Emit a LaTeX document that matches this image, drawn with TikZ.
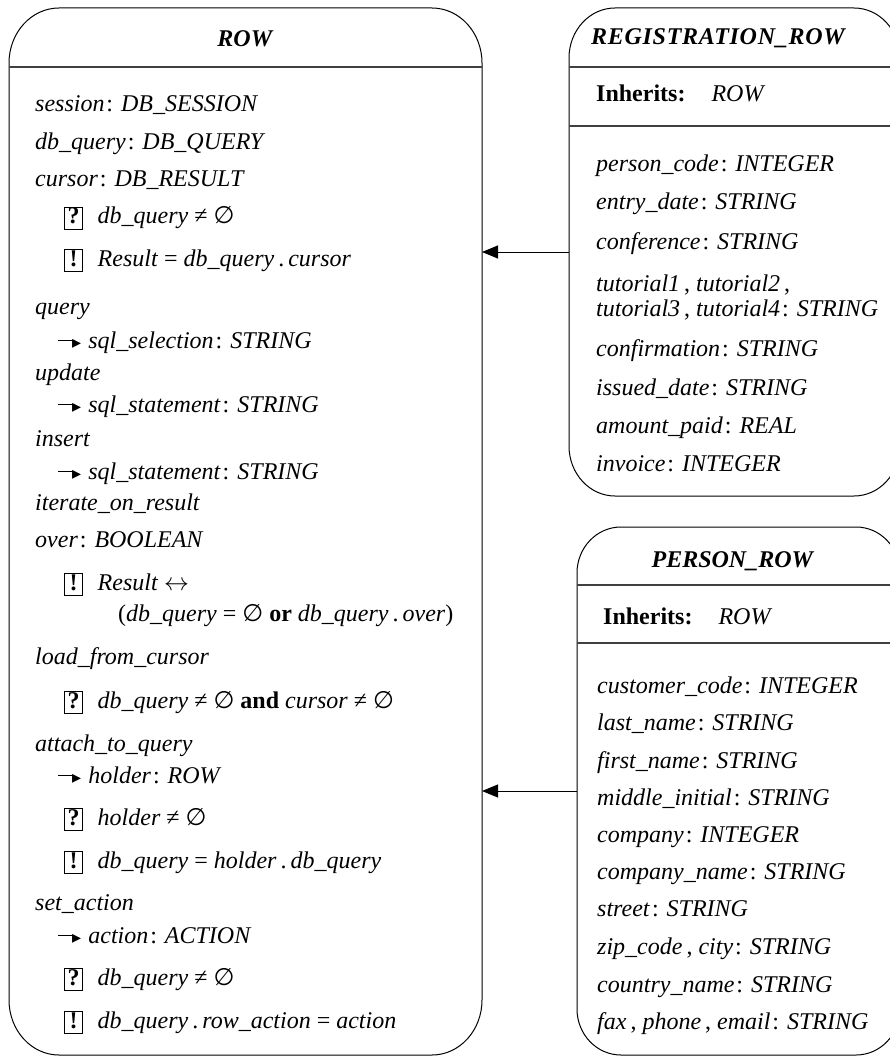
\documentclass[tikz,border=0pt]{standalone}
\usepackage{fontspec}
\usepackage{graphicx}
\setmainfont{Liberation Serif}
\newfontfamily\symfont{DejaVu Sans}
\usetikzlibrary{arrows.meta}

% class name, feature "name: TYPE"
\newcommand\cls[1]{\textbf{\textit{#1}}}
\newcommand\fe[2]{\textit{#1}\kern0.08em: \textit{#2}}
% empty set, not equal
\newcommand\void{{\symfont ∅}}
\newcommand\nvoid{≠ \void}
% framed assertion marker (? precondition, ! postcondition)
\newcommand\mk[1]{{\setlength\fboxsep{0pt}\setlength\fboxrule{0.9pt}%
  \fbox{\makebox[0.72em]{\rule[-0.2em]{0pt}{0.88em}\textbf{#1}}}}\hspace{0.6em}}
% argument arrow
\newcommand\argarrow{\rule[0.29em]{0.68em}{0.045em}\kern-0.1em{\symfont\scalebox{0.75}{▸}}\hspace{0.3em}}
% rounded class outline with elliptic corners around an invisible area node
\newcommand\classoutline[3]{%
  \draw[outline] ([yshift=-#3]#1.north west)
    arc[start angle=180,end angle=90,x radius=#2,y radius=#3]
    -- ([xshift=-#2]#1.north east)
    arc[start angle=90,end angle=0,x radius=#2,y radius=#3]
    -- ([yshift=#3]#1.south east)
    arc[start angle=0,end angle=-90,x radius=#2,y radius=#3]
    -- ([xshift=#2]#1.south west)
    arc[start angle=270,end angle=180,x radius=#2,y radius=#3]
    -- cycle;}

\tikzset{
  area/.style={anchor=north west, inner sep=0pt, outer sep=0pt, draw=none},
  outline/.style={line width=1pt, black},
  sep/.style={line width=1.2pt, black!75},
  txt/.style={anchor=base west, inner sep=0pt, font=\fontsize{24}{28}\selectfont},
  title/.style={anchor=base, inner sep=0pt, font=\fontsize{24}{28}\selectfont},
  inh/.style={line width=1pt, -{Triangle[length=16pt,width=13pt]}}
}

\begin{document}
\begin{tikzpicture}[x=1pt,y=-1pt]
\useasboundingbox (0,0) rectangle (890,1059);

% class areas
\node[area, minimum width=473pt, minimum height=1047pt] (rowbox) at (9,8) {};
\node[area, minimum width=331pt, minimum height=488pt] (regbox) at (569,8) {};
\node[area, minimum width=323pt, minimum height=528pt] (perbox) at (577,527) {};

\classoutline{rowbox}{50pt}{55pt}
\classoutline{regbox}{46pt}{50pt}
\classoutline{perbox}{44pt}{46pt}

% compartment separators
\draw[sep] (9,67) -- (482,67);
\draw[sep] (569,67) -- (900,67);
\draw[sep] (569,126) -- (900,126);
\draw[sep] (577,585) -- (900,585);
\draw[sep] (577,643) -- (900,643);

% ROW
\node[title] (rowt) at (245.5,47) {\cls{ROW}};
\node[txt] (r1) at (35,112) {\fe{session}{DB\_SESSION}};
\node[txt] (r2) at (35,150) {\fe{db\_query}{DB\_QUERY}};
\node[txt] (r3) at (35,187) {\fe{cursor}{DB\_RESULT}};
\node[txt] (r4) at (64,224) {\mk{?}\textit{db\_query} \nvoid};
\node[txt] (r5) at (64,266) {\mk{!}\textit{Result} = \textit{db\_query}\,.\,\textit{cursor}};
\node[txt] (r6) at (35,314) {\textit{query}};
\node[txt] (r7) at (58,348) {\argarrow\fe{sql\_selection}{STRING}};
\node[txt] (r8) at (35,380) {\textit{update}};
\node[txt] (r9) at (58,412) {\argarrow\fe{sql\_statement}{STRING}};
\node[txt] (r10) at (35,446) {\textit{insert}};
\node[txt] (r11) at (58,479) {\argarrow\fe{sql\_statement}{STRING}};
\node[txt] (r12) at (35,510) {\textit{iterate\_on\_result}};
\node[txt] (r13) at (35,547) {\fe{over}{BOOLEAN}};
\node[txt] (r14) at (64,590) {\mk{!}\textit{Result} $\leftrightarrow$};
\node[txt] (r15) at (118,621) {(\textit{db\_query} = \void{} \textbf{or} \textit{db\_query}\,.\,\textit{over})};
\node[txt] (r16) at (35,664) {\textit{load\_from\_cursor}};
\node[txt] (r17) at (64,708) {\mk{?}\textit{db\_query} \nvoid{} \textbf{and} \textit{cursor} \nvoid};
\node[txt] (r18) at (35,751) {\textit{attach\_to\_query}};
\node[txt] (r19) at (58,783) {\argarrow\fe{holder}{ROW}};
\node[txt] (r20) at (64,825) {\mk{?}\textit{holder} \nvoid};
\node[txt] (r21) at (64,868) {\mk{!}\textit{db\_query} = \textit{holder}\,.\,\textit{db\_query}};
\node[txt] (r22) at (35,910) {\textit{set\_action}};
\node[txt] (r23) at (58,943) {\argarrow\fe{action}{ACTION}};
\node[txt] (r24) at (64,985) {\mk{?}\textit{db\_query} \nvoid};
\node[txt] (r25) at (64,1028) {\mk{!}\textit{db\_query}\,.\,\textit{row\_action} = \textit{action}};

% REGISTRATION_ROW
\node[title] (regt) at (719,45) {\addfontfeature{LetterSpace=3}\cls{REGISTRATION\_ROW}};
\node[txt] (regi) at (596,102) {\textbf{Inherits:}\hspace{26pt}\textit{ROW}};
\node[txt] (g1) at (596,172) {\fe{person\_code}{INTEGER}};
\node[txt] (g2) at (596,210) {\fe{entry\_date}{STRING}};
\node[txt] (g3) at (596,249) {\fe{conference}{STRING}};
\node[txt] (g4) at (596,291) {\textit{tutorial1}\,, \textit{tutorial2}\,,};
\node[txt] (g5) at (596,316) {\textit{tutorial3}\,, \fe{tutorial4}{STRING}};
\node[txt] (g6) at (596,356) {\fe{confirmation}{STRING}};
\node[txt] (g7) at (596,395) {\fe{issued\_date}{STRING}};
\node[txt] (g8) at (596,433) {\fe{amount\_paid}{REAL}};
\node[txt] (g9) at (596,471) {\fe{invoice}{INTEGER}};

% PERSON_ROW
\node[title] (pert) at (733,567) {\cls{PERSON\_ROW}};
\node[txt] (peri) at (603,624) {\textbf{Inherits:}\hspace{26pt}\textit{ROW}};
\node[txt] (p1) at (597,693) {\fe{customer\_code}{INTEGER}};
\node[txt] (p2) at (597,730) {\fe{last\_name}{STRING}};
\node[txt] (p3) at (597,768) {\fe{first\_name}{STRING}};
\node[txt] (p4) at (597,805) {\fe{middle\_initial}{STRING}};
\node[txt] (p5) at (597,842) {\fe{company}{INTEGER}};
\node[txt] (p6) at (597,879) {\fe{company\_name}{STRING}};
\node[txt] (p7) at (597,916) {\fe{street}{STRING}};
\node[txt] (p8) at (597,954) {\textit{zip\_code}\,, \fe{city}{STRING}};
\node[txt] (p9) at (597,992) {\fe{country\_name}{STRING}};
\node[txt] (p10) at (597,1029) {\textit{fax}\,, \textit{phone}\,, \fe{email}{STRING}};

% inheritance links
\draw[inh] (regbox.west) -- (regbox.west -| rowbox.east);
\draw[inh] (perbox.west) -- (perbox.west -| rowbox.east);
\end{tikzpicture}
\end{document}
